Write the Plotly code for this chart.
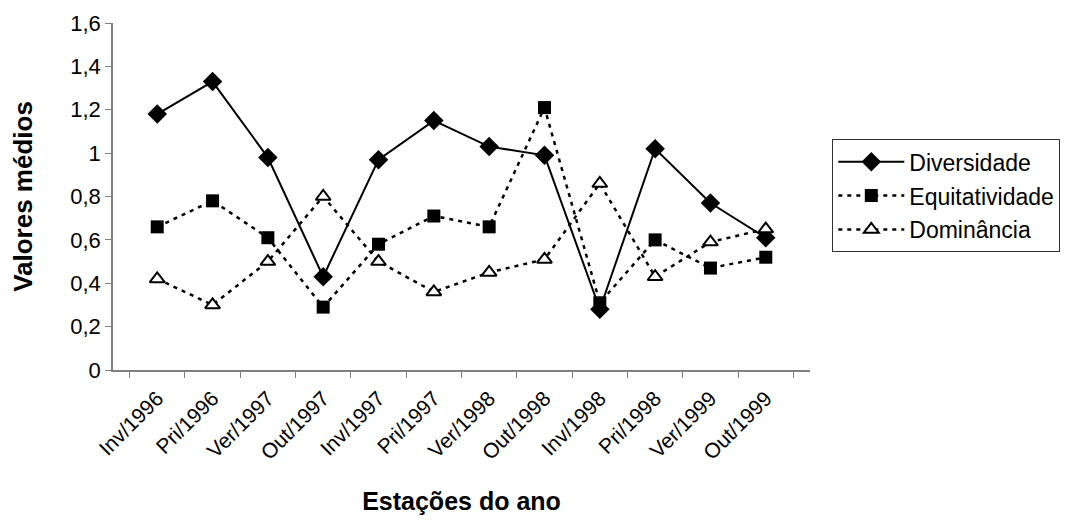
import plotly.graph_objects as go

# Estações (categorias do eixo x)
estacoes = ["Inv/1996", "Pri/1996", "Ver/1997", "Out/1997", "Inv/1997", "Pri/1997",
            "Ver/1998", "Out/1998", "Inv/1998", "Pri/1998", "Ver/1999", "Out/1999"]

diversidade = [1.18, 1.33, 0.98, 0.43, 0.97, 1.15, 1.03, 0.99, 0.28, 1.02, 0.77, 0.61]
equitatividade = [0.66, 0.78, 0.61, 0.29, 0.58, 0.71, 0.66, 1.21, 0.31, 0.60, 0.47, 0.52]
dominancia = [0.42, 0.30, 0.50, 0.80, 0.50, 0.36, 0.45, 0.51, 0.86, 0.43, 0.59, 0.65]

FONT = "Liberation Sans, Arial, sans-serif"
DASH = "4px,5px"

fig = go.Figure()

fig.add_trace(go.Scatter(
    x=estacoes, y=diversidade, name="Diversidade", legendgroup="d",
    mode="lines+markers",
    line=dict(color="black", width=2),
    marker=dict(symbol="diamond", size=15, color="black"),
))
fig.add_trace(go.Scatter(
    x=estacoes, y=equitatividade, name="Equitatividade", legendgroup="e",
    mode="lines+markers",
    line=dict(color="black", width=2.5, dash=DASH),
    marker=dict(symbol="square", size=13, color="black"),
))
fig.add_trace(go.Scatter(
    x=estacoes, y=dominancia, name="Dominância", legendgroup="m",
    mode="lines+markers",
    line=dict(color="black", width=2.5, dash=DASH),
    marker=dict(symbol="triangle-up", size=13, color="white",
                line=dict(color="black", width=2)),
))

# a página tem 8px de margem no body, por isso 1075x509
fig.update_layout(
    width=1075, height=509,
    plot_bgcolor="white", paper_bgcolor="white",
    font=dict(family=FONT, size=22, color="black"),
    separators=", ",
    margin=dict(l=105, r=273, t=15, b=147),
    legend=dict(
        x=1.032, y=0.665, xanchor="left", yanchor="top",
        bordercolor="#333", borderwidth=1,
        font=dict(size=23), itemwidth=66,
        tracegroupgap=1,
    ),
)
fig.update_xaxes(
    type="category", tickson="boundaries", automargin=False,
    showline=True, linecolor="#808080", linewidth=1.5,
    ticks="outside", ticklen=6, tickcolor="#808080",
    tickangle=-45, tickfont=dict(size=21), ticklabelstandoff=6,
    showgrid=False, zeroline=False,
    title=dict(text="<b>Estações do ano</b>", font=dict(size=25), standoff=30),
)
fig.update_yaxes(
    range=[0, 1.6], dtick=0.2, automargin=False,
    showline=True, linecolor="#808080", linewidth=1.5,
    ticks="outside", ticklen=6, tickcolor="#808080",
    tickfont=dict(size=22),
    showgrid=False, zeroline=False,
    title=dict(text="<b>Valores médios</b>", font=dict(size=26), standoff=30),
)

fig.write_html("out.html")
